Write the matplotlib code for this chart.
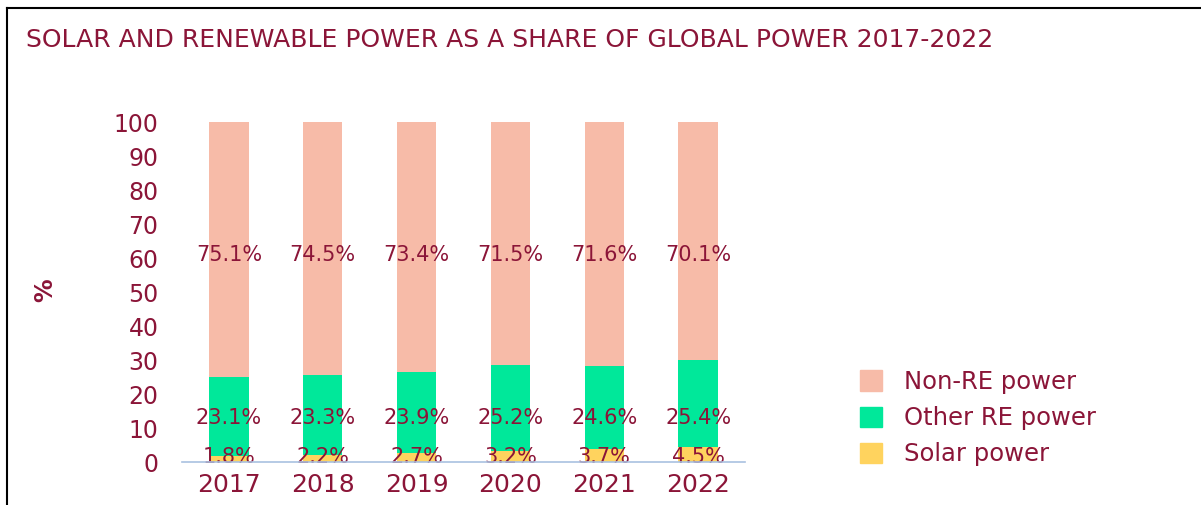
import matplotlib.pyplot as plt
from matplotlib.patches import Patch
from matplotlib.lines import Line2D

years = ["2017", "2018", "2019", "2020", "2021", "2022"]
solar = [1.8, 2.2, 2.7, 3.2, 3.7, 4.5]
other_re = [23.1, 23.3, 23.9, 25.2, 24.6, 25.4]
non_re = [75.1, 74.5, 73.4, 71.5, 71.6, 70.1]

text_col = "#8B1538"
c_non = "#F7BBA8"
c_other = "#00E89A"
c_solar = "#FFD35E"

fig = plt.figure(figsize=(12.01, 5.05), dpi=100)
ax = fig.add_axes([182/1201, 43/505, 563/1201, 340/505])

x = range(len(years))
w = 0.42
ax.bar(x, solar, w, color=c_solar, clip_on=False)
ax.bar(x, other_re, w, bottom=solar, color=c_other, clip_on=False)
bot = [s + o for s, o in zip(solar, other_re)]
ax.bar(x, non_re, w, bottom=bot, color=c_non, clip_on=False)

for i in x:
    ax.text(i, 61, "%.1f%%" % non_re[i], ha="center", va="center", fontsize=15, color=text_col)
    ax.text(i, 13, "%.1f%%" % other_re[i], ha="center", va="center", fontsize=15, color=text_col)
    ax.text(i, 1.5, "%.1f%%" % solar[i], ha="center", va="center", fontsize=15, color=text_col)

ax.set_xlim(-0.5, 5.5)
ax.set_ylim(0, 100)
ax.set_yticks(range(0, 101, 10))
ax.set_xticks(list(x))
ax.set_xticklabels(years)
ax.tick_params(axis="y", length=0, pad=17, labelsize=17, labelcolor=text_col)
ax.tick_params(axis="x", length=0, pad=8, labelsize=18, labelcolor=text_col)
for s in ["top", "right", "left"]:
    ax.spines[s].set_visible(False)
ax.spines["bottom"].set_color("#A9C1E0")
ax.spines["bottom"].set_linewidth(1.2)
ax.spines["bottom"].set_zorder(5)

fig.text(45/1201, 1 - 290/505, "%", rotation=90, ha="center", va="center",
         fontsize=17, fontweight="bold", color=text_col)

fig.text(26/1201, 1 - 40/505, "SOLAR AND RENEWABLE POWER AS A SHARE OF GLOBAL POWER 2017-2022",
         ha="left", va="center", fontsize=18, color=text_col)

handles = [Patch(color=c_non), Patch(color=c_other), Patch(color=c_solar)]
labels = ["Non-RE power", "Other RE power", "Solar power"]
fig.legend(handles, labels, loc="center left", bbox_to_anchor=(838/1201, 1 - 418/505),
           frameon=False, fontsize=17.5, labelcolor=text_col, handlelength=0.9,
           handleheight=0.9, handletextpad=0.9, labelspacing=0.5)

# frame edges
fig.add_artist(Line2D([7/1201, 7/1201], [0, 1 - 8/505], color="black", lw=1.5))
fig.add_artist(Line2D([7/1201, 1], [1 - 8/505, 1 - 8/505], color="black", lw=1.5))

fig.savefig("out.png", dpi=100)
